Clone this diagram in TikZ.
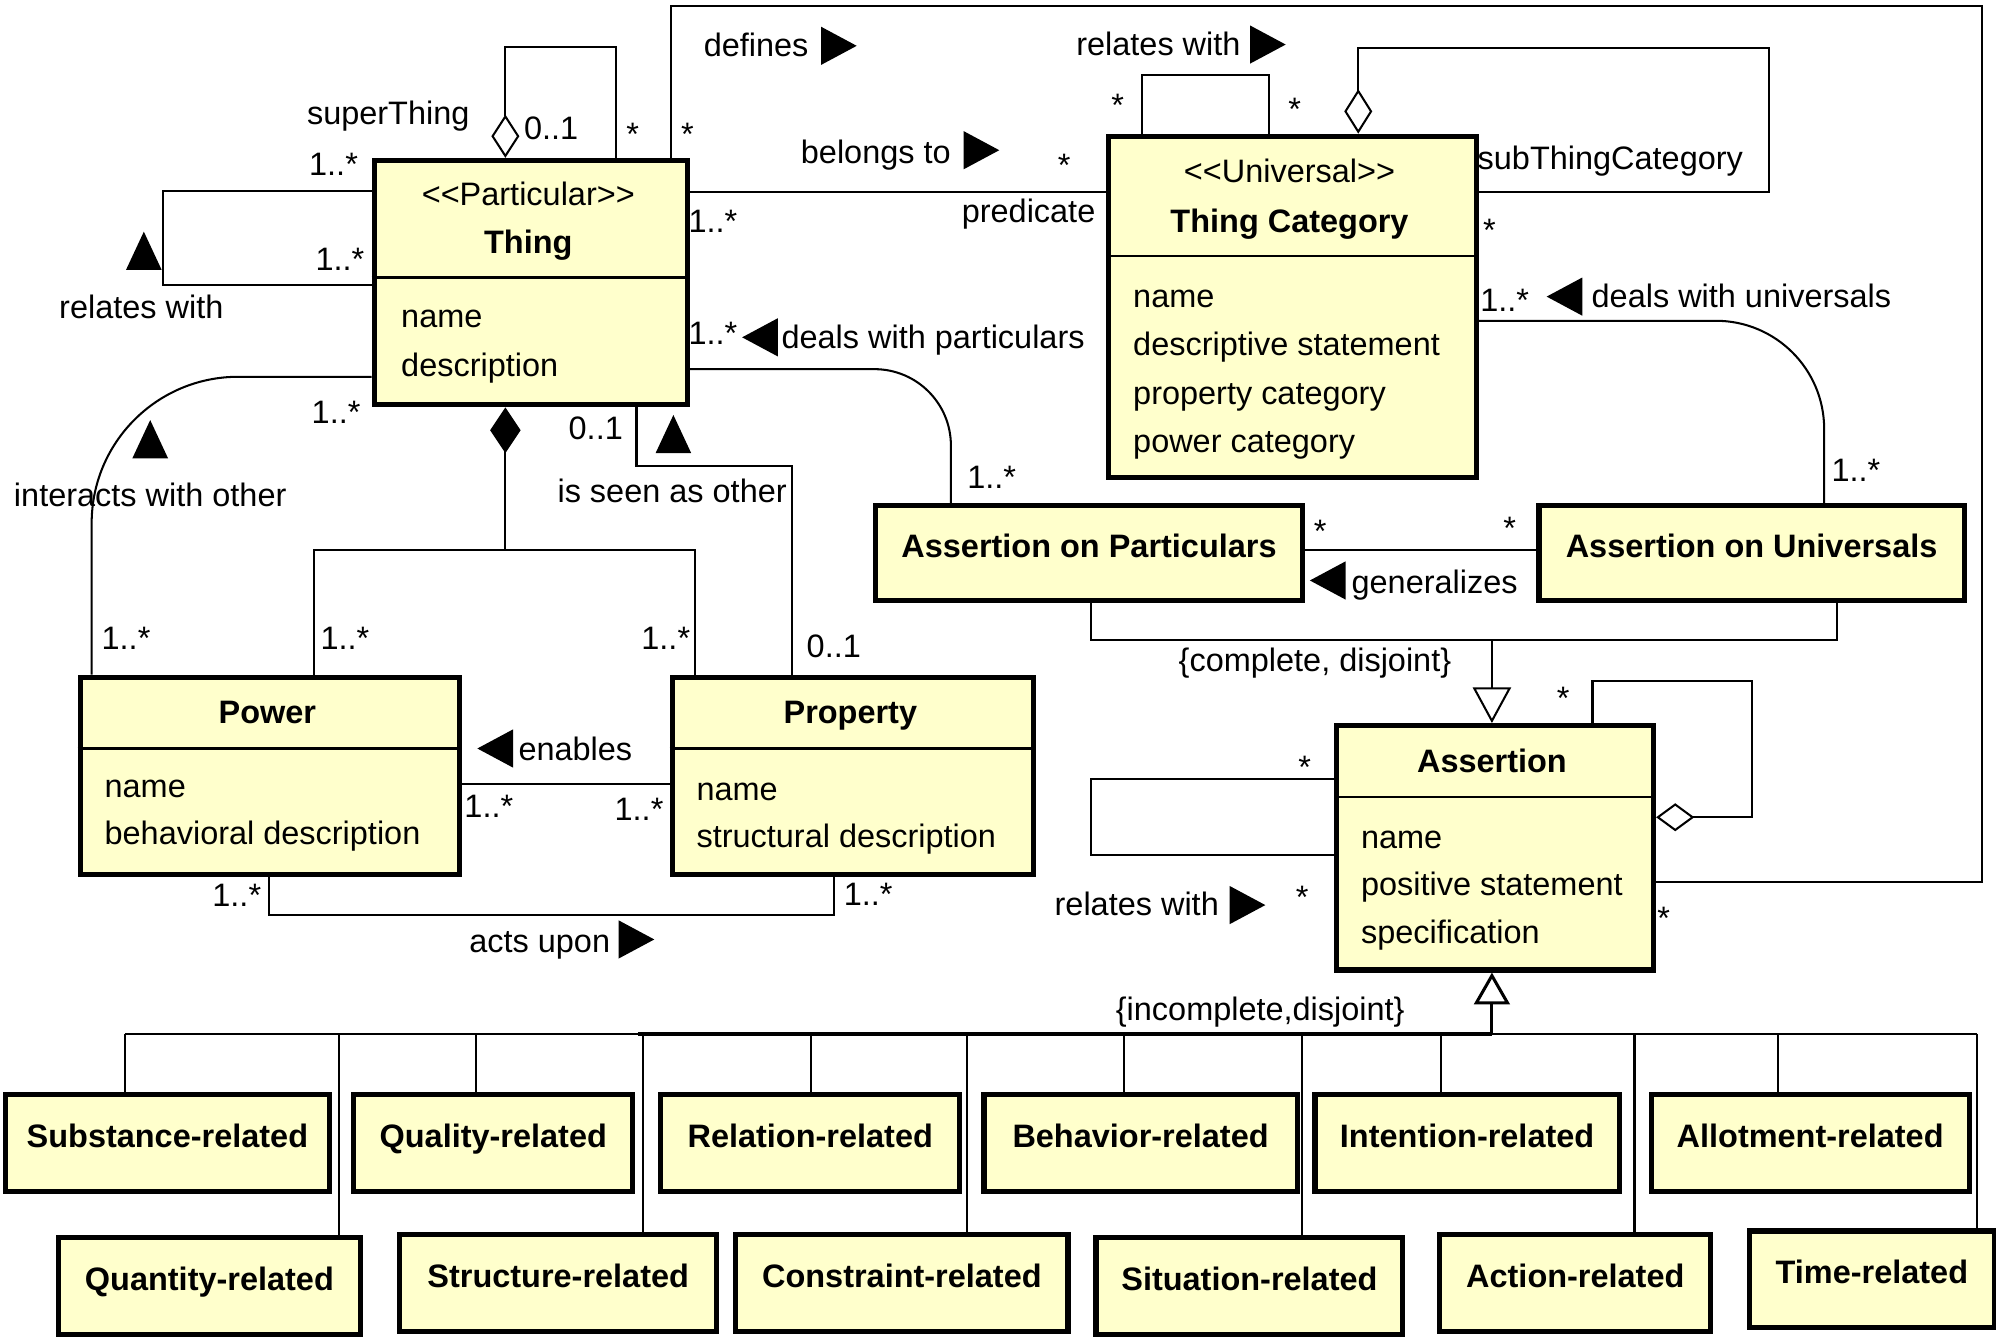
\documentclass[tikz,border=0pt]{standalone}
\usepackage{fontspec}
\setmainfont{Liberation Sans}
\usetikzlibrary{arrows.meta}
\definecolor{classfill}{RGB}{255,255,204}
\newcommand{\lblsize}{\fontsize{25.5}{30}\selectfont}
\newcommand{\stereo}[1]{\textless\kern0pt\textless\kern0pt #1\kern0pt\textgreater\kern0pt\textgreater}
\tikzset{
  dirR/.pic={\fill (-14,-15) -- (14,0) -- (-14,15) -- cycle;},
  dirL/.pic={\fill (14,-15) -- (-14,0) -- (14,15) -- cycle;},
  dirU/.pic={\fill (-14,15) -- (0,-15) -- (14,15) -- cycle;}
}

\begin{document}
\begin{tikzpicture}[x=1pt,y=-1pt,
    conn/.style={line width=1.6pt},
    classbox/.style={draw,line width=4pt,fill=classfill,anchor=north west,inner sep=0pt},
    onebox/.style={classbox,font=\lblsize\bfseries,text height=18pt,text depth=11pt},
    lbl/.style={inner sep=0pt,font=\lblsize,text height=18pt,text depth=5pt},
    hdr/.style={lbl,font=\lblsize\bfseries},
    attr/.style={lbl,anchor=west},
    starlbl/.style={lbl,yshift=-8pt}]
  \useasboundingbox (0,0) rectangle (1568,1051);

  % Classes with attributes
  \node[classbox,minimum width=246,minimum height=192] (thing) at (292,124) {};
  \node[classbox,minimum width=289,minimum height=268] (tcat) at (869,105) {};
  \node[classbox,minimum width=298,minimum height=155] (power) at (61,530) {};
  \node[classbox,minimum width=284,minimum height=155] (prop) at (526,530) {};
  \node[classbox,minimum width=249,minimum height=192] (asrt) at (1048,568) {};
  \node[onebox,minimum width=335,minimum height=75] (aop) at (686,395) {Assertion on Particulars};
  \node[onebox,minimum width=334,minimum height=75] (aou) at (1207,395) {Assertion on Universals};

  \draw[conn] (thing.west |- 0,218) -- (thing.east |- 0,218);
  \node[lbl] (thingst) at (415,155) {\stereo{Particular}};
  \node[hdr] (thingnm) at (415,193) {Thing};
  \node[attr] (thinga1) at (315,251) {name};
  \node[attr] (thinga2) at (315,289) {description};

  \draw[conn] (tcat.west |- 0,201) -- (tcat.east |- 0,201);
  \node[lbl] (tcatst) at (1013,137) {\stereo{Universal}};
  \node[hdr] (tcatnm) at (1013,176) {Thing Category};
  \node[attr] (tcata1) at (890,235) {name};
  \node[attr] (tcata2) at (890,273) {descriptive statement};
  \node[attr] (tcata3) at (890,311) {property category};
  \node[attr] (tcata4) at (890,349) {power category};

  \draw[conn] (power.west |- 0,588) -- (power.east |- 0,588);
  \node[hdr] (powernm) at (210,562) {Power};
  \node[attr] (powera1) at (82,620) {name};
  \node[attr] (powera2) at (82,657) {behavioral description};

  \draw[conn] (prop.west |- 0,588) -- (prop.east |- 0,588);
  \node[hdr] (propnm) at (668,562) {Property};
  \node[attr] (propa1) at (547,622) {name};
  \node[attr] (propa2) at (547,659) {structural description};

  \draw[conn] (asrt.west |- 0,626) -- (asrt.east |- 0,626);
  \node[hdr] (asrtnm) at (1172,600) {Assertion};
  \node[attr] (asrta1) at (1069,660) {name};
  \node[attr] (asrta2) at (1069,697) {positive statement};
  \node[attr] (asrta3) at (1069,735) {specification};

  % Kinds of assertion
  \foreach \n/\x/\y/\w/\t in {subst/2/858/255/Substance-related, qual/276/858/219/Quality-related,
      rel/517/858/235/Relation-related, behav/771/858/246/Behavior-related,
      inten/1031/858/239/Intention-related, allot/1295/858/250/Allotment-related,
      quant/44/970/237/Quantity-related, struc/312/968/249/Structure-related,
      constr/576/968/261/Constraint-related, situ/859/970/241/Situation-related,
      action/1129/968/213/Action-related, timerel/1372/965/193/Time-related}
    \node[onebox,minimum width=\w,minimum height=76] (\n) at (\x,\y) {\t};

  % Thing relates with Thing
  \draw[conn] (thing.west |- 0,150) -| (128,224) -- (thing.west |- 0,224);
  \node[lbl] (m1) at (262,131) {1..*};
  \node[lbl] (m2) at (267,206) {1..*};
  \pic at (113,197) {dirU};
  \node[lbl] (r1) at (111,244) {relates with};

  % superThing
  \draw[conn,{Diamond[open,length=34pt,width=22pt]}-] (thing.north -| 397,0) |- (484,37) -- (thing.north -| 484,0);
  \node[lbl] (r2) at (305,91) {superThing};
  \node[lbl] (m3) at (433,103) {0..1};
  \node[starlbl] (m4) at (497,100) {*};

  % defines
  \draw[conn] (thing.north -| 527,0) |- (1557,5) |- (asrt.east |- 0,693);
  \node[starlbl] (m5) at (540,100) {*};
  \node[lbl] (r3) at (594,38) {defines};
  \pic at (659,36) {dirR};
  \node[starlbl] (m6) at (1307,716) {*};

  % belongs to
  \draw[conn] (thing.east |- 0,151) -- (tcat.west |- 0,151);
  \node[lbl] (r4) at (688,122) {belongs to};
  \pic at (771,118) {dirR};
  \node[starlbl] (m7) at (836,124) {*};
  \node[lbl] (m8) at (560,176) {1..*};
  \node[lbl] (r5) at (808,168) {predicate};

  % Thing Category relates with Thing Category
  \draw[conn] (tcat.north -| 897,0) |- (997,59) -- (tcat.north -| 997,0);
  \node[lbl] (r6) at (910,37) {relates with};
  \pic at (996,35) {dirR};
  \node[starlbl] (m9) at (878,77) {*};
  \node[starlbl] (m10) at (1017,80) {*};

  % subThingCategory
  \draw[conn,{Diamond[open,length=35pt,width=22pt]}-] (tcat.north -| 1067,0) |- (1390,38) |- (tcat.east |- 0,151);
  \node[lbl] (r7) at (1265,127) {subThingCategory};
  \node[starlbl] (m11) at (1170,175) {*};

  % deals with universals
  \draw[conn,rounded corners=85pt] (tcat.east |- 0,252) -| (aou.north -| 1433,0);
  \node[lbl] (m12) at (1182,238) {1..*};
  \pic at (1229,233) {dirL};
  \node[lbl] (r8) at (1368,235) {deals with universals};
  \node[lbl] (m13) at (1458,372) {1..*};

  % deals with particulars
  \draw[conn,rounded corners=60pt] (thing.east |- 0,290) -| (aop.north -| 747,0);
  \node[lbl] (m14) at (560,264) {1..*};
  \pic at (597,265) {dirL};
  \node[lbl] (r9) at (733,267) {deals with particulars};
  \node[lbl] (m15) at (779,377) {1..*};

  % interacts with other
  \draw[conn,rounded corners=115pt] (thing.west |- 0,296) -| (power.north -| 72,0);
  \node[lbl] (m16) at (264,326) {1..*};
  \pic at (118,345) {dirU};
  \node[lbl] (r10) at (118,391) {interacts with other};
  \node[lbl] (m17) at (99,504) {1..*};

  % Thing is made of Power and Property
  \coordinate (comp) at (397,432);
  \draw[conn,{Diamond[length=36pt,width=24pt]}-] (thing.south -| comp) -- (comp);
  \draw[conn] (power.north -| 247,0) |- (comp) -| (prop.north -| 546,0);
  \node[lbl] (m18) at (271,504) {1..*};
  \node[lbl] (m19) at (523,504) {1..*};

  % is seen as other
  \draw[conn] (thing.south -| 500,0) |- (622,366) -- (prop.north -| 622,0);
  \node[lbl] (m20) at (468,339) {0..1};
  \pic at (529,341) {dirU};
  \node[lbl] (r11) at (528,388) {is seen as other};
  \node[lbl] (m21) at (655,510) {0..1};

  % enables
  \draw[conn] (power.east |- 0,616) -- (prop.west |- 0,616);
  \pic at (389,588) {dirL};
  \node[lbl] (r12) at (452,591) {enables};
  \node[lbl] (m22) at (384,636) {1..*};
  \node[lbl] (m23) at (502,638) {1..*};

  % acts upon
  \draw[conn] (power.south -| 211,0) |- (655,719) -- (prop.south -| 655,0);
  \node[lbl] (m24) at (186,706) {1..*};
  \node[lbl] (m25) at (682,705) {1..*};
  \node[lbl] (r13) at (424,742) {acts upon};
  \pic at (500,738) {dirR};

  % generalizes
  \draw[conn] (aop.east |- 0,432) -- (aou.west |- 0,432);
  \node[starlbl] (m26) at (1037,412) {*};
  \node[starlbl] (m27) at (1186,409) {*};
  \pic at (1043,456) {dirL};
  \node[lbl] (r14) at (1127,460) {generalizes};

  % Assertion on Particulars / Universals are Assertions
  \coordinate (gen1) at (1172,503);
  \draw[conn] (aop.south -| 857,0) |- (1443,503) -- (aou.south -| 1443,0);
  \draw[conn,-{Triangle[open,length=28pt,width=30pt]}] (gen1) -- (asrt.north -| gen1);
  \node[lbl] (c1) at (1033,521) {\{complete, disjoint\}};

  % Assertion made of Assertions
  \draw[conn,{Diamond[open,length=30pt,width=22pt]}-] (asrt.east |- 0,642) -| (1376,535) -| (asrt.north -| 1251,0);
  \node[starlbl] (m28) at (1228,543) {*};

  % Assertion relates with Assertion
  \draw[conn] (asrt.west |- 0,612) -| (857,672) -- (asrt.west |- 0,672);
  \node[starlbl] (m29) at (1025,597) {*};
  \node[starlbl] (m30) at (1023,699) {*};
  \node[lbl] (r15) at (893,713) {relates with};
  \pic at (980,711) {dirR};

  % Kinds of assertion are Assertions
  \coordinate (gen2) at (1172,812);
  \draw[conn] (98,812) -- (1553,812);
  \draw[line width=3pt] (501,812) -- (gen2);
  \draw[line width=2.4pt,-{Triangle[open,length=25pt,width=28pt]}] (gen2) -- (asrt.south -| gen2);
  \foreach \x/\n in {98/subst, 266/quant, 374/qual, 505/struc, 637/rel, 760/constr,
      883/behav, 1023/situ, 1132/inten, 1284/action, 1397/allot, 1553/timerel}
    \draw[conn] (\x,812) -- (\n.north -| \x,0);
  \node[lbl] (c2) at (990,795) {\{incomplete,disjoint\}};
\end{tikzpicture}
\end{document}
